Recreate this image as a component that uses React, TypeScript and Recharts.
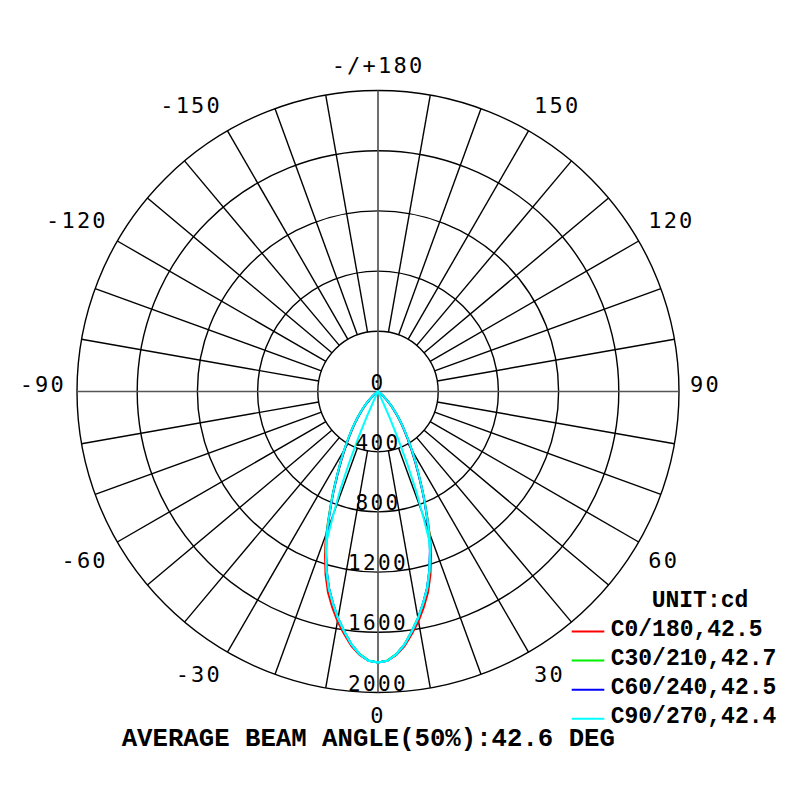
import React from 'react';
import {
  RadarChart,
  Radar,
  PolarGrid,
  PolarAngleAxis,
  PolarRadiusAxis,
} from 'recharts';

// gamma angles (deg) of one half plane, mirrored to the other side
const gammas = [
  0, 2, 4, 6, 8, 10, 12, 14, 16, 18, 19, 20, 21, 22, 23, 24, 25, 26, 28, 30,
  32, 34, 36, 38, 40, 43, 46, 50, 55, 60, 90, 135, 180,
];

// intensities (cd)
const c0 = [
  1800, 1790, 1755, 1700, 1625, 1550, 1465, 1375, 1265, 1140, 1075, 1000, 925,
  855, 790, 730, 670, 615, 520, 440, 370, 310, 260, 215, 175, 125, 80, 40, 12,
  0, 0, 0, 0,
];
const c30 = [
  1800, 1788, 1748, 1688, 1608, 1528, 1440, 1348, 1240, 1122, 1062, 995, 925,
  855, 795, 735, 675, 622, 532, 452, 382, 322, 270, 222, 180, 130, 85, 45, 15,
  0, 0, 0, 0,
];
const c60 = [
  1800, 1790, 1750, 1690, 1610, 1530, 1438, 1346, 1236, 1116, 1055, 985, 915,
  846, 786, 726, 666, 616, 526, 446, 376, 318, 268, 220, 178, 128, 84, 44, 14,
  0, 0, 0, 0,
];
const c90 = [
  1800, 1790, 1750, 1690, 1610, 1530, 1440, 1350, 1240, 1120, 1060, 990, 920,
  850, 790, 730, 670, 620, 530, 450, 380, 320, 270, 220, 180, 130, 85, 45, 15,
  0, 0, 0, 0,
];
const c270 = [
  1800, 1790, 1750, 1690, 1610, 1530, 1440, 1350, 1240, 1120, 1040, 860, 700,
  520, 340, 190, 70, 10, 0, 0, 0, 0, 0, 0, 0, 0, 0, 0, 0, 0, 0, 0, 0,
];

const angleLabels = ['-/+180', '150', '120', '90', '60', '30', '0', '-30', '-60', '-90', '-120', '-150'];
const legendNames = ['C0/180,42.5', 'C30/210,42.7', 'C60/240,42.5', 'C90/270,42.4'];
const seriesColors = ['#ff0000', '#00ee00', '#0000ff', '#00ffff'];
const title = 'AVERAGE BEAM ANGLE(50%):42.6 DEG';

const W = 784;
const H = 784;
const CX = 370;
const CY = 383.5;
const R_OUT = 301;
const R_IN = 60.2;

const spokeAngles = Array.from({ length: 36 }, (_, i) => i * 10).filter((a) => a % 90 !== 0);

const halfRows = gammas.map((g, i) => ({
  g,
  c0: c0[i],
  c30: c30[i],
  c60: c60[i],
  c90: c90[i],
  c270: c270[i],
}));
const rows = [
  ...halfRows.slice(1).reverse().map((r) => ({ ...r, angle: -r.g })),
  ...halfRows.map((r) => ({ ...r, angle: r.g })),
];
const labelRows = angleLabels.map((label) => ({ label, v: 400 }));

const sansMono = "'DejaVu Sans Mono', monospace";
const courier = "'Liberation Mono', 'Courier New', monospace";

const renderAngleTick = (props: any) => {
  const { payload } = props;
  const a = (payload.coordinate * Math.PI) / 180;
  const cos = Math.cos(a);
  const sin = Math.sin(a);
  const x = CX + (R_OUT + 11) * cos;
  const y = CY - (R_OUT + 11) * sin;
  const anchor = cos > 0.1 ? 'start' : cos < -0.1 ? 'end' : 'middle';
  let dy = -7;
  if (sin < -0.95) dy = 11.5;
  else if (sin < -0.1) dy = 13;
  else if (sin > 0.95) dy = -14;
  else if (sin > 0.1) dy = -15.5;
  return (
    <text
      x={x}
      y={y + dy}
      textAnchor={anchor}
      dominantBaseline="central"
      fontFamily={sansMono}
      fontSize={22}
      letterSpacing={2.2}
      fill="#000"
    >
      {payload.value}
    </text>
  );
};

const renderRadiusTick = (props: any) => (
  <text
    x={props.x}
    y={props.y - 2}
    textAnchor="middle"
    fontFamily={sansMono}
    fontSize={21}
    letterSpacing={2.4}
    fill="#000"
  >
    {props.payload.value}
  </text>
);

const noMargin = { top: 0, right: 0, bottom: 0, left: 0 };

export default function App() {
  return (
    <div style={{ position: 'relative', width: W, height: H, background: '#fff' }}>
      <div style={{ position: 'absolute', left: 0, top: 0 }}>
        <RadarChart
          width={W}
          height={H}
          cx={CX}
          cy={CY}
          innerRadius={R_IN}
          outerRadius={R_OUT}
          data={labelRows}
          margin={noMargin}
        >
          <PolarGrid gridType="circle" polarAngles={spokeAngles} stroke="#000" strokeWidth={1.4} />
          <PolarAngleAxis dataKey="label" tick={renderAngleTick} tickLine={false} axisLine={false} />
          <PolarRadiusAxis domain={[400, 2000]} tickCount={5} tick={false} axisLine={false} tickLine={false} />
          <Radar dataKey="v" stroke="none" fill="none" dot={false} isAnimationActive={false} />
        </RadarChart>
      </div>
      <div style={{ position: 'absolute', left: 0, top: 0 }}>
        <RadarChart
          width={W}
          height={H}
          cx={CX}
          cy={CY}
          innerRadius={0}
          outerRadius={R_OUT}
          startAngle={-270}
          endAngle={90}
          data={rows}
          margin={noMargin}
        >
          <PolarGrid gridType="circle" polarAngles={[0, 90, 180, 270]} polarRadius={[]} stroke="#555" strokeWidth={1.7} />
          <PolarAngleAxis type="number" dataKey="angle" domain={[-180, 180]} tick={false} tickLine={false} axisLine={false} />
          <PolarRadiusAxis angle={-90} domain={[0, 2000]} tickCount={6} tick={renderRadiusTick} axisLine={false} tickLine={false} />
          <Radar name={legendNames[0]} dataKey="c0" stroke={seriesColors[0]} strokeWidth={2} fill="none" dot={false} isAnimationActive={false} />
          <Radar name={legendNames[1]} dataKey="c30" stroke={seriesColors[1]} strokeWidth={2} fill="none" dot={false} isAnimationActive={false} />
          <Radar name={legendNames[2]} dataKey="c60" stroke={seriesColors[2]} strokeWidth={2} fill="none" dot={false} isAnimationActive={false} />
          <Radar name="C270" dataKey="c270" stroke={seriesColors[3]} strokeWidth={2} fill="none" dot={false} isAnimationActive={false} legendType="none" />
          <Radar name={legendNames[3]} dataKey="c90" stroke={seriesColors[3]} strokeWidth={2} fill="none" dot={false} isAnimationActive={false} />
        </RadarChart>
      </div>
      <svg width={W} height={H} style={{ position: 'absolute', left: 0, top: 0, pointerEvents: 'none' }}>
        <text x={643.7} y={592.7} dominantBaseline="central" fontFamily={courier} fontWeight="bold" fontSize={23} fill="#000">
          UNIT:cd
        </text>
        {legendNames.map((name, i) => (
          <g key={name}>
            <line x1={563.7} x2={596.3} y1={623.5 + i * 29.1} y2={623.5 + i * 29.1} stroke={seriesColors[i]} strokeWidth={2} />
            <text x={602.7} y={622 + i * 29.1} dominantBaseline="central" fontFamily={courier} fontWeight="bold" fontSize={23} fill="#000">
              {name}
            </text>
          </g>
        ))}
        <text x={360.3} y={731} textAnchor="middle" dominantBaseline="central" fontFamily={courier} fontWeight="bold" fontSize={25.7} fill="#000">
          {title}
        </text>
      </svg>
    </div>
  );
}
